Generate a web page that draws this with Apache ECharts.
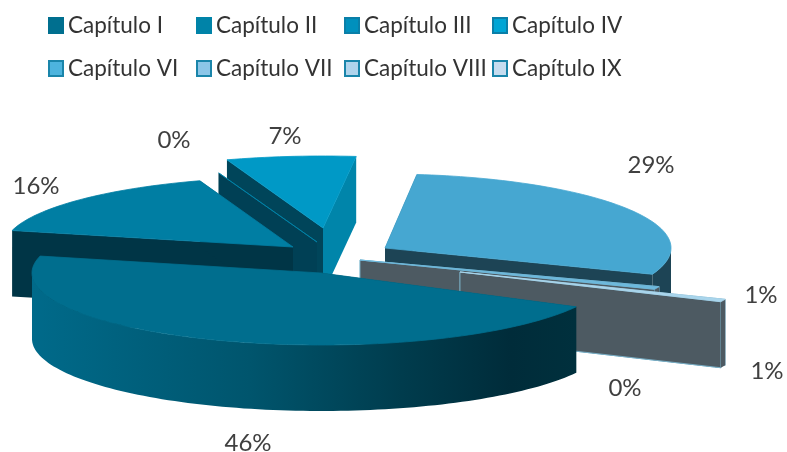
<!DOCTYPE html>
<html>
<head>
<meta charset="utf-8">
<style>
html, body { margin: 0; padding: 0; background: #fff; }
#chart { width: 787px; height: 452px; }
</style>
<script src="https://cdn.jsdelivr.net/npm/echarts@6/dist/echarts.min.js"></script>
</head>
<body>
<div id="chart"></div>
<script>
// values (the two thin slices are rounded up to 1% by their labels)
const chapters = ['Capítulo I', 'Capítulo II', 'Capítulo III', 'Capítulo IV', 'Capítulo VI', 'Capítulo VII', 'Capítulo VIII', 'Capítulo IX'];
const percents = [46, 16, 0, 7, 29, 0.6, 0.6, 0];

// look of each slice
const topColors = ['#006e8e', '#007ea3', '#0085ab', '#0099c6', '#46a7d1', '#6db9dc', '#a9d5ec', '#8cc6e0'];
const legendColors = ['#006f8f', '#0083a8', '#0090bd', '#00a5d5', '#4db4de', '#8cc6e8', '#b0d4ec', '#c5dcef'];
const legendBorders = ['#006f8f', '#0083a8', '#0a7fa8', '#0a7fa8', '#1a85aa', '#1a85aa', '#1a85aa', '#1a85aa'];
const startWalls = ['#00303d', '#003546', '#004055', '#00455a', '#1d4455', '#4d5a62', '#4d5a62', '#4d5a62'];
const endWalls = ['#00303d', '#003546', '#004055', '#0085aa', '#1d4455', '#4d5a62', '#4d5a62', '#4d5a62'];
// exploded layout: apex of each slice and its radii
const apexX = [321, 293, 317, 323, 385, 360, 460, 460];
const apexY = [273, 247, 242, 228, 248, 260, 272, 272];
const radiusX = [289, 289, 305, 298, 286, 320, 288, 288];
const radiusY = [72, 70, 73, 72, 74, 75, 70, 70];
const labelX = [248, 36, 174, 285, 651, 761, 767, 625];
const labelY = [443, 186, 140, 136, 165, 295, 371, 388];
const drawOrder = [7, 4, 3, 2, 0, 5, 6, 1]; // z per slice, back to front

const firstAngle = 118;
const wallHeight = 66;

let acc = firstAngle;
const startAngles = percents.map(function (p) {
    const a = acc % 360;
    acc += p * 3.6;
    return a;
});

function rimPoint(i, deg) {
    const r = deg * Math.PI / 180;
    return [apexX[i] + radiusX[i] * Math.sin(r), apexY[i] - radiusY[i] * Math.cos(r)];
}

function drop(p) {
    return [p[0], p[1] + wallHeight];
}

function arcPoints(i, a, b) {
    const pts = [];
    const n = Math.max(1, Math.ceil((b - a) / 1.5));
    for (let k = 0; k <= n; k++) {
        pts.push(rimPoint(i, a + (b - a) * k / n));
    }
    return pts;
}

function wallFill(i) {
    if (i !== 0) return startWalls[i];
    return new echarts.graphic.LinearGradient(0, 0, 1, 0, [
        { offset: 0, color: '#006a8a' },
        { offset: 0.4, color: '#00556d' },
        { offset: 0.68, color: '#003c4d' },
        { offset: 0.88, color: '#002c3a' },
        { offset: 1, color: '#00303d' }
    ]);
}

function renderSlice(params, api) {
    const i = params.seriesIndex;
    const a = startAngles[i];
    const b = a + api.value(0) * 3.6;
    const apex = [apexX[i], apexY[i]];
    const edge = i >= 5 ? '#7fb8cf' : null; // the grey walls have a light edge
    const children = [];

    // side walls first, the top face covers whatever should stay hidden
    [[a, startWalls[i]], [b, endWalls[i]]].forEach(function (w) {
        const rim = rimPoint(i, w[0]);
        children.push({
            type: 'polygon',
            shape: { points: [apex, rim, drop(rim), drop(apex)] },
            style: { fill: w[1], stroke: edge, lineWidth: 0.8 }
        });
    });

    // curved wall only where the rim faces the viewer
    const from = Math.max(a, 90);
    const to = Math.min(b, 270);
    if (to > from) {
        const arc = arcPoints(i, from, to);
        children.push({
            type: 'polygon',
            shape: { points: arc.concat(arc.map(drop).reverse()) },
            style: { fill: wallFill(i) }
        });
    }

    children.push({
        type: 'polygon',
        shape: { points: [apex].concat(arcPoints(i, a, b)) },
        style: { fill: topColors[i], stroke: topColors[i], lineWidth: 0.8 }
    });

    children.push({
        type: 'text',
        style: {
            text: Math.round(api.value(0)) + '%',
            x: labelX[i],
            y: labelY[i],
            align: 'center',
            verticalAlign: 'middle',
            fill: '#404040',
            font: '24px Lato'
        }
    });

    return { type: 'group', children: children };
}

const myChart = echarts.init(document.getElementById('chart'));

const legends = chapters.map(function (name, i) {
    return {
        data: [name],
        left: 43 + 148 * (i % 4),
        top: i < 4 ? 9 : 52,
        icon: 'rect',
        itemWidth: 14,
        itemHeight: 15,
        selectedMode: false,
        itemStyle: { borderColor: legendBorders[i], borderWidth: 2 },
        textStyle: { fontFamily: 'Lato', fontSize: 22.5, color: '#333' }
    };
});

const series = chapters.map(function (name, i) {
    return {
        name: name,
        type: 'custom',
        coordinateSystem: 'none',
        silent: true,
        z: 2 + drawOrder[i],
        itemStyle: { color: legendColors[i] },
        renderItem: renderSlice,
        data: [[percents[i]]]
    };
});

myChart.setOption({
    backgroundColor: '#fff',
    animation: false,
    legend: legends,
    series: series
});
</script>
</body>
</html>
